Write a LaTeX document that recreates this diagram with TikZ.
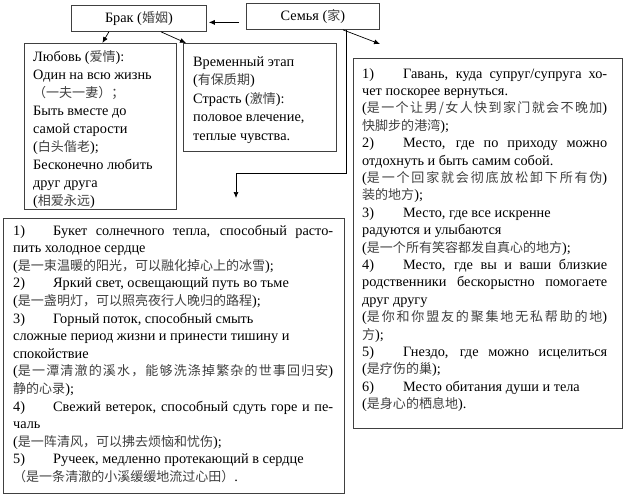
\documentclass[tikz,border=0pt]{standalone}
\usepackage{fontspec}
\setmainfont{Liberation Serif}
\newfontfamily\zhf[Scale=0.91]{Noto Sans CJK SC}
\usetikzlibrary{arrows.meta,calc}
\definecolor{zhgray}{gray}{0.25}
\definecolor{edge}{gray}{0.25}
\newcommand\zh[1]{{\zhf\color{zhgray}#1}}
\newcommand\blk[2]{\vtop{\baselineskip=#1\lineskiplimit=-50pt\lineskip=0pt\relax #2}}
\newcommand\li[1]{\hbox{#1}}
\newcommand\jl[2]{\hbox to #1{#2}}
\newcommand\jz[2]{\hbox to #1{\spaceskip=0pt plus 1fil\relax #2}}
\newcommand\tb[2]{\makebox[#1][l]{#2}}
\begin{document}
\begin{tikzpicture}[x=1pt,y=-1pt,
  box/.style={draw=edge,line width=0.8pt,anchor=north west,inner sep=0pt},
  txt/.style={anchor=base west,inner sep=0pt,font=\fontsize{14.3}{16}\selectfont},
  arr/.style={draw=black,line width=0.7pt,-{Latex[length=6pt,width=5pt]}}]
\useasboundingbox (0,0) rectangle (624,496);
% boxes
\node[box,minimum width=135pt,minimum height=26pt,font=\fontsize{14.3}{16}\selectfont] (brak) at (71,5) {Брак (\zh{婚姻})};
\node[box,minimum width=133pt,minimum height=26pt,font=\fontsize{14.3}{16}\selectfont] (sem) at (246,3) {Семья (\zh{家})};
\node[box,minimum width=152pt,minimum height=166pt] (lbox) at (24,43) {};
\node[box,minimum width=153pt,minimum height=108pt] (mbox) at (183,43) {};
\node[box,minimum width=269pt,minimum height=370pt] (rbox) at (353,58) {};
\node[box,minimum width=341pt,minimum height=275pt] (bbox) at (3,218) {};
% texts
\node[txt] (ltext) at (33,61) {\blk{18pt}{%
 \li{Любовь (\zh{爱情}):}
 \li{Один на всю жизнь}
 \li{\zh{（一夫一妻）；}}
 \li{Быть вместе до}
 \li{самой старости}
 \li{(\zh{白头偕老});}
 \li{Бесконечно любить}
 \li{друг друга}
 \li{(\zh{相爱永远})}}};
\node[txt] (mtext) at (193,66) {\blk{18.5pt}{%
 \li{Временный этап}
 \li{(\zh{有保质期})}
 \li{Страсть (\zh{激情}):}
 \li{половое влечение,}
 \li{теплые чувства.}}};
\node[txt] (rtext) at (362,78) {\blk{17.4pt}{%
 \jl{245pt}{\tb{41pt}{1)}Гавань, куда супруг/супруга хо-}
 \li{чет поскорее вернуться.}
 \jz{245pt}{(\zh{是 一 个 让 男 / 女 人 快 到 家 门 就 会 不 晚 加})}
 \li{\zh{快脚步的港湾});}
 \jl{245pt}{\tb{41pt}{2)}Место, где по приходу можно}
 \li{отдохнуть и быть самим собой.}
 \jz{245pt}{(\zh{是 一 个 回 家 就 会 彻 底 放 松 卸 下 所 有 伪})}
 \li{\zh{装的地方});}
 \li{\tb{41pt}{3)}Место, где все искренне}
 \li{радуются и улыбаются}
 \li{(\zh{是一个所有笑容都发自真心的地方});}
 \jl{245pt}{\tb{41pt}{4)}Место, где вы и ваши близкие}
 \jl{245pt}{родственники бескорыстно помогаете}
 \li{друг другу}
 \jz{245pt}{(\zh{是 你 和 你 盟 友 的 聚 集 地 无 私 帮 助 的 地})}
 \li{\zh{方});}
 \jl{245pt}{\tb{41pt}{5)}Гнездо, где можно исцелиться}
 \li{(\zh{是疗伤的巢});}
 \li{\tb{41pt}{6)}Место обитания души и тела}
 \li{(\zh{是身心的栖息地}).}}};
\node[txt] (btext) at (13,235) {\blk{17.6pt}{%
 \jl{320pt}{\tb{40pt}{1)}Букет солнечного тепла, способный расто-}
 \li{пить холодное сердце}
 \li{(\zh{是一束温暖的阳光，可以融化掉心上的冰雪});}
 \li{\tb{40pt}{2)}Яркий свет, освещающий путь во тьме}
 \li{(\zh{是一盏明灯，可以照亮夜行人晚归的路程});}
 \li{\tb{40pt}{3)}Горный поток, способный смыть}
 \li{сложные период жизни и принести тишину и}
 \li{спокойствие}
 \jz{320pt}{(\zh{是 一 潭 清 澈 的 溪 水 ， 能 够 洗 涤 掉 繁 杂 的 世 事 回 归 安})}
 \li{\zh{静的心录});}
 \jl{320pt}{\tb{40pt}{4)}Свежий ветерок, способный сдуть горе и пе-}
 \li{чаль}
 \li{(\zh{是一阵清风，可以拂去烦恼和忧伤});}
 \li{\tb{40pt}{5)}Ручеек, медленно протекающий в сердце}
 \li{\zh{（是一条清澈的小溪缓缓地流过心田）}.}}};
% connectors
\draw[arr] ($(sem.west)+(-7,6)$) -- ($(brak.east)+(2,4)$);
\draw[arr] ($(brak.south)+(-30,0)$) -- ($(lbox.north)+(2,0)$);
\draw[arr] ($(brak.south)+(22,0)$) -- ($(mbox.north west)+(3,0)$);
\draw[arr] ($(sem.south)+(30,0)$) -- ($(rbox.north west)+(27,-14)$);
\draw[arr] ($(sem.south)+(33,0)$) -- ($(sem.south)+(33,144)$) -| ($(bbox.north west)+(233,-20)$);
\end{tikzpicture}
\end{document}
